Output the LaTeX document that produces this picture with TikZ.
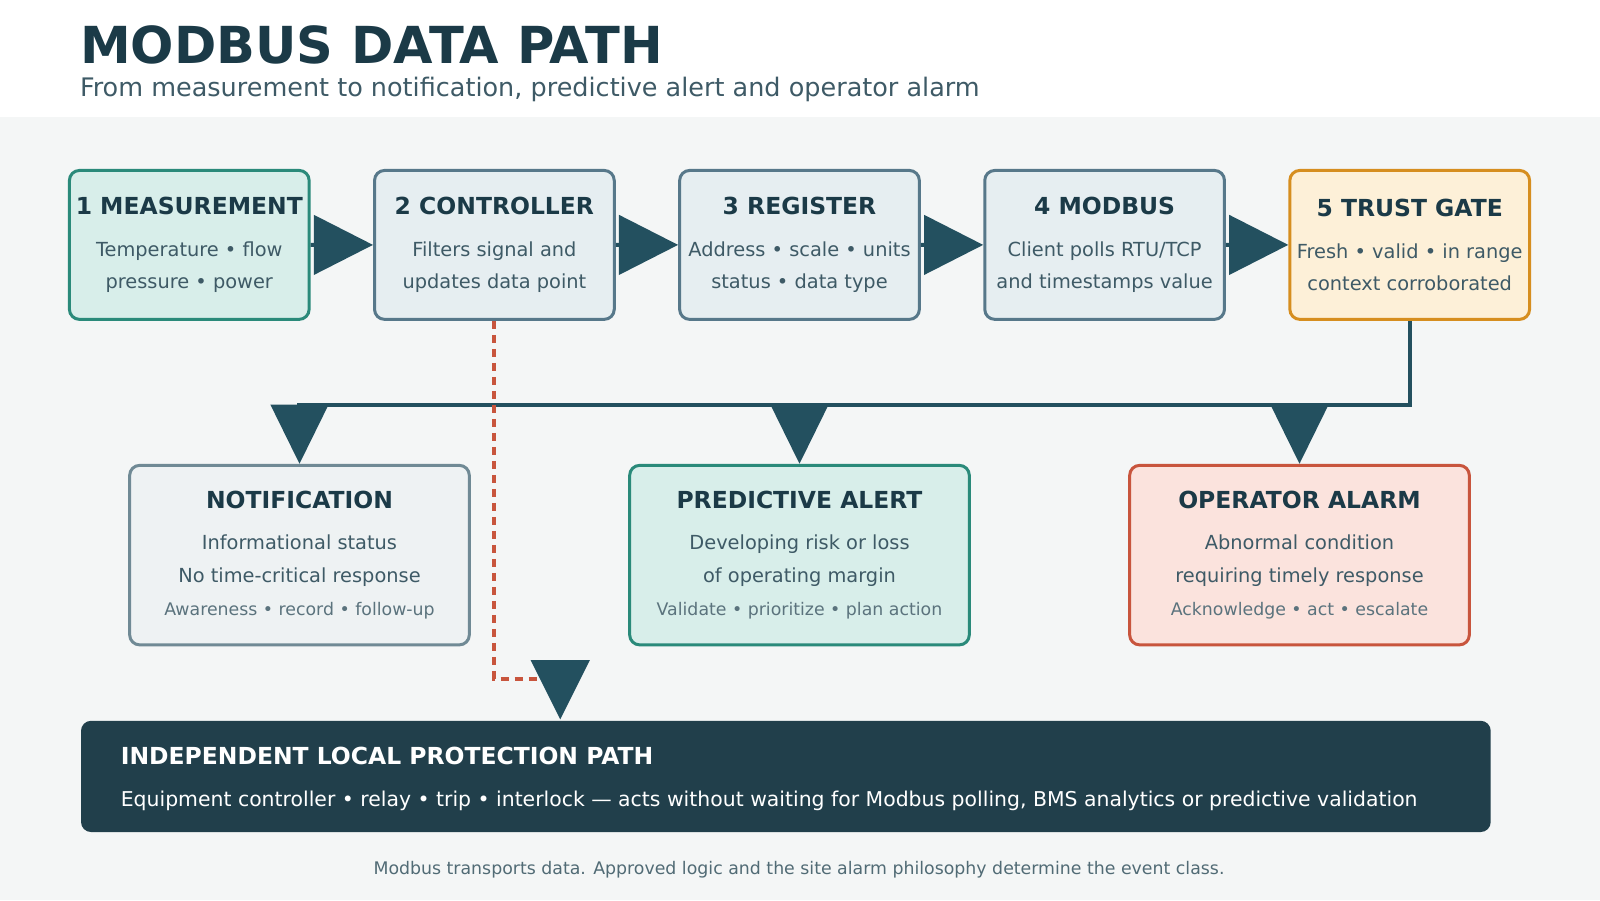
\documentclass[tikz,border=0pt]{standalone}
\usepackage{fontspec}
\setmainfont{DejaVu Sans}
\usetikzlibrary{arrows.meta,positioning}
\definecolor{ink}{HTML}{1B3A47}
\definecolor{body}{HTML}{3E5A66}
\definecolor{arr}{HTML}{23505F}
\definecolor{bg}{HTML}{F4F6F6}
\definecolor{gfill}{HTML}{D8EEEA}\definecolor{gline}{HTML}{2A8A7A}
\definecolor{bfill}{HTML}{E6EEF1}\definecolor{bline}{HTML}{57788A}
\definecolor{ofill}{HTML}{FDF0D8}\definecolor{oline}{HTML}{D68E1F}
\definecolor{nfill}{HTML}{EEF2F3}\definecolor{nline}{HTML}{708A95}
\definecolor{rfill}{HTML}{FBE3DD}\definecolor{rline}{HTML}{C8553D}
\definecolor{dark}{HTML}{213F4B}
\tikzset{
  step/.style={draw=#1line,fill=#1fill,line width=1.5pt,rounded corners=5pt,
    minimum width=117.5pt,minimum height=73pt,align=center,text=body,
    font=\fontsize{9.5}{15.5}\selectfont,inner sep=0pt},
  out/.style={draw=#1line,fill=#1fill,line width=1.5pt,rounded corners=5pt,
    minimum width=166.5pt,minimum height=88pt,align=center,text=body,
    font=\fontsize{9.5}{16}\selectfont,inner sep=0pt},
  flow/.style={arr,line width=2pt,-{Triangle[length=29.6pt,width=29.6pt]}},
  head/.style={arr,line width=2pt,-{Triangle[length=29.6pt,width=28.6pt]}},
}
\newcommand{\ttl}[1]{{\fontsize{11.5}{20}\selectfont\bfseries\color{ink}#1}}
\newcommand{\sml}[1]{{\fontsize{8.5}{14}\selectfont\color{body!85}#1}}
\begin{document}
\begin{tikzpicture}[x=0.5102pt,y=-0.5102pt,every node/.append style={scale=1.02}]
  \fill[bg] (0,115) rectangle (1568,882);

  \node[anchor=base west,inner sep=0pt,text=ink,font=\fontsize{25}{30}\selectfont\bfseries] (title) at (78,62) {MODBUS DATA PATH};
  \node[anchor=base west,inner sep=0pt,text=body,font=\fontsize{12.5}{15}\selectfont] (sub) at (78,95) {From measurement to notification, predictive alert and operator alarm};

  % pipeline
  \node[step=g] (meas) at (185.5,240) {\ttl{1 MEASUREMENT}\\[5pt]Temperature • flow\\pressure • power};
  \node[step=b] (ctrl) at (484.5,240) {\ttl{2 CONTROLLER}\\[5pt]Filters signal and\\updates data point};
  \node[step=b] (reg) at (783.5,240) {\ttl{3 REGISTER}\\[5pt]Address • scale • units\\status • data type};
  \node[step=b] (mod) at (1082.5,240) {\ttl{4 MODBUS}\\[5pt]Client polls RTU/TCP\\and timestamps value};
  \node[step=o] (gate) at (1381.5,240) {\ttl{5 TRUST GATE}\\[5pt]Fresh • valid • in range\\context corroborated};

  \draw[flow] (meas) -- (ctrl);
  \draw[flow] (ctrl) -- (reg);
  \draw[flow] (reg) -- (mod);
  \draw[flow] (mod) -- (gate);

  % outcomes
  \node[out=n] (note) at (293.5,544) {\ttl{NOTIFICATION}\\[4pt]Informational status\\No time-critical response\\\sml{Awareness • record • follow-up}};
  \node[out=g] (pred) at (783.5,544) {\ttl{PREDICTIVE ALERT}\\[4pt]Developing risk or loss\\of operating margin\\\sml{Validate • prioritize • plan action}};
  \node[out=r] (alarm) at (1273.5,544) {\ttl{OPERATOR ALARM}\\[4pt]Abnormal condition\\requiring timely response\\\sml{Acknowledge • act • escalate}};

  \coordinate (bus) at (1382,397);
  \draw[arr,line width=2pt] (gate.south) |- (291,397);
  \draw[head] (note.north |- bus) -- (note.north);
  \draw[head] (pred.north |- bus) -- (pred.north);
  \draw[head] (alarm.north |- bus) -- (alarm.north);

  % local protection
  \node[fill=dark,rounded corners=5pt,minimum width=691pt,minimum height=54.5pt,anchor=north west,
    inner sep=0pt] (prot) at (79,706) {};
  \node[anchor=base west,inner sep=0pt,text=white,font=\fontsize{11.5}{14}\selectfont\bfseries] (protT) at (118,749) {INDEPENDENT LOCAL PROTECTION PATH};
  \node[anchor=base west,inner sep=0pt,text=white,font=\fontsize{10}{14}\selectfont] (protB) at (118,790) {Equipment controller • relay • trip • interlock — acts without waiting for Modbus polling, BMS analytics or predictive validation};

  \coordinate (turn) at (530,665);
  \draw[rline,line width=2pt,dash pattern=on 4pt off 3pt] (ctrl.south) |- (turn);
  \fill[arr] (520,647) -- (578,647) -- (549,705) -- cycle;

  \node[text=body!90,font=\fontsize{8.5}{10}\selectfont] (foot) at (783,852) {Modbus transports data. Approved logic and the site alarm philosophy determine the event class.};
  \useasboundingbox (0,0) rectangle (1568,882);
\end{tikzpicture}
\end{document}
